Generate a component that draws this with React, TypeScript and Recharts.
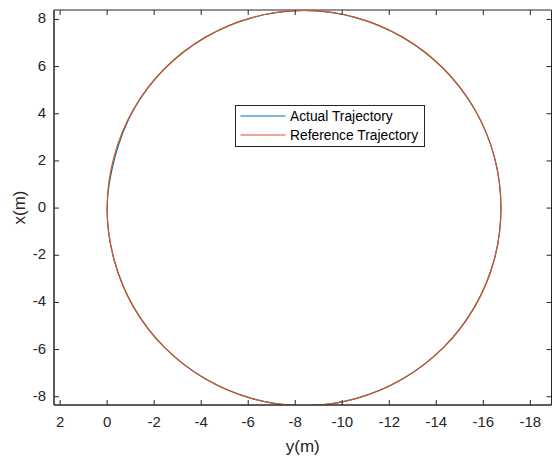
import { LineChart, Line, XAxis, YAxis, ReferenceArea } from "recharts";

// horizontal axis is y(m), vertical axis is x(m)
const refY = [
  0, -0.29, -1.12, -2.45, -4.19, -6.21, -8.38, -10.54, -12.56, -14.3, -15.63, -16.47, -16.75,
  -16.47, -15.63, -14.3, -12.56, -10.54, -8.38, -6.21, -4.19, -2.45, -1.12, -0.29, 0,
];
const refX = [
  0, 2.17, 4.19, 5.92, 7.25, 8.09, 8.38, 8.09, 7.25, 5.92, 4.19, 2.17, 0,
  -2.17, -4.19, -5.92, -7.25, -8.09, -8.38, -8.09, -7.25, -5.92, -4.19, -2.17, 0,
];
const actY = [
  0, -0.33, -1.13, -2.45, -4.19, -6.21, -8.38, -10.54, -12.56, -14.3, -15.63, -16.47, -16.75,
  -16.47, -15.63, -14.3, -12.56, -10.54, -8.38, -6.21, -4.19, -2.45, -1.12, -0.29, 0,
];
const actX = [
  0, 2.15, 4.18, 5.92, 7.25, 8.09, 8.38, 8.09, 7.25, 5.92, 4.19, 2.17, 0,
  -2.17, -4.19, -5.92, -7.25, -8.09, -8.38, -8.09, -7.25, -5.92, -4.19, -2.17, 0,
];

const xTicks = [2, 0, -2, -4, -6, -8, -10, -12, -14, -16, -18];
const yTicks = [-8, -6, -4, -2, 0, 2, 4, 6, 8];
const xDomain = [-18.9, 2.26];
const yDomain = [-8.35, 8.4];

const BLUE = "#0072BD";
const ORANGE = "#D95319";
const AXIS = "#262626";
const FONT = "'Liberation Sans', Arial, sans-serif";

const W = 553;
const H = 459;
const M = { top: 10, right: 1.5, bottom: 0, left: 0 };
const PLOT_TOP = M.top;
const PLOT_RIGHT = W - M.right;

const refData = refY.map((y, i) => ({ y, x: refX[i] }));
const actData = actY.map((y, i) => ({ y, x: actX[i] }));

// catmull-rom curve, wraps around when the path is closed
const loopCurve = (context: any) => {
  let pts: number[][] = [];
  return {
    areaStart() {},
    areaEnd() {},
    lineStart() {
      pts = [];
    },
    point(x: number, y: number) {
      pts.push([x, y]);
    },
    lineEnd() {
      const n = pts.length;
      if (!n) return;
      const first = pts[0];
      const last = pts[n - 1];
      const closed = n > 2 && Math.abs(first[0] - last[0]) < 0.01 && Math.abs(first[1] - last[1]) < 0.01;
      context.moveTo(first[0], first[1]);
      for (let i = 0; i < n - 1; i++) {
        const p0 = i === 0 ? (closed ? pts[n - 2] : pts[0]) : pts[i - 1];
        const p1 = pts[i];
        const p2 = pts[i + 1];
        const p3 = i === n - 2 ? (closed ? pts[1] : pts[n - 1]) : pts[i + 2];
        context.bezierCurveTo(
          p1[0] + (p2[0] - p0[0]) / 6,
          p1[1] + (p2[1] - p0[1]) / 6,
          p2[0] - (p3[0] - p1[0]) / 6,
          p2[1] - (p3[1] - p1[1]) / 6,
          p2[0],
          p2[1]
        );
      }
    },
  };
};

// ticks point inwards, and are repeated on the top / right edges of the box
const BottomTick = (props: any) => {
  const { x, y, payload } = props;
  return (
    <g>
      <line x1={x} y1={y} x2={x} y2={y - 5} stroke={AXIS} />
      <line x1={x} y1={PLOT_TOP} x2={x} y2={PLOT_TOP + 5} stroke={AXIS} />
      <text x={x} y={y + 22} textAnchor="middle" fill={AXIS} fontSize={15} fontFamily={FONT}>
        {payload.value}
      </text>
    </g>
  );
};

const LeftTick = (props: any) => {
  const { x, y, payload } = props;
  return (
    <g>
      <line x1={x} y1={y} x2={x + 5} y2={y} stroke={AXIS} />
      <line x1={PLOT_RIGHT} y1={y} x2={PLOT_RIGHT - 5} y2={y} stroke={AXIS} />
      <text x={x - 8} y={y - 1.5} textAnchor="end" dominantBaseline="central" fill={AXIS} fontSize={15} fontFamily={FONT}>
        {payload.value}
      </text>
    </g>
  );
};

const LegendBox = () => (
  <svg width={190} height={42} style={{ display: "block" }}>
    <rect x={0.5} y={0.5} width={189} height={41} fill="#fff" stroke={AXIS} />
    <line x1={5.5} x2={50.5} y1={11} y2={11} stroke={BLUE} strokeWidth={1} />
    <text x={55} y={11} dominantBaseline="central" fontSize={13.8} fontFamily={FONT} fill="#000">
      Actual Trajectory
    </text>
    <line x1={5.5} x2={50.5} y1={30} y2={30} stroke={ORANGE} strokeWidth={1} />
    <text x={55} y={30} dominantBaseline="central" fontSize={13.8} fontFamily={FONT} fill="#000">
      Reference Trajectory
    </text>
  </svg>
);

export default function App() {
  return (
    <div style={{ position: "absolute", left: 0, top: 0, width: W, height: H, background: "#fff" }}>
      <LineChart width={W} height={H} margin={M}>
        <XAxis
          dataKey="y"
          type="number"
          domain={xDomain}
          reversed
          allowDataOverflow
          ticks={xTicks}
          interval={0}
          height={54}
          tickSize={0}
          tickMargin={0}
          tick={BottomTick}
          axisLine={{ stroke: AXIS }}
          label={{
            content: (p: any) => {
              const vb = p.viewBox;
              return (
                <text x={vb.x + vb.width / 2} y={452} textAnchor="middle" fontSize={17} fontFamily={FONT} fill={AXIS}>
                  y(m)
                </text>
              );
            },
          }}
        />
        <YAxis
          type="number"
          domain={yDomain}
          allowDataOverflow
          ticks={yTicks}
          interval={0}
          width={54}
          tickSize={0}
          tickMargin={0}
          tick={LeftTick}
          axisLine={{ stroke: AXIS }}
          label={{
            content: (p: any) => {
              const vb = p.viewBox;
              const cy = vb.y + vb.height / 2;
              return (
                <text x={25} y={cy} transform={`rotate(-90, 25, ${cy})`} textAnchor="middle" fontSize={17} fontFamily={FONT} fill={AXIS}>
                  x(m)
                </text>
              );
            },
          }}
        />
        <ReferenceArea
          x1={xDomain[0]}
          x2={xDomain[1]}
          y1={yDomain[0]}
          y2={yDomain[1]}
          fill="none"
          fillOpacity={0}
          stroke={AXIS}
          strokeWidth={1}
          ifOverflow="visible"
        />
        <Line
          data={actData}
          dataKey="x"
          name="Actual Trajectory"
          type={loopCurve as any}
          stroke={BLUE}
          strokeWidth={1.2}
          dot={false}
          activeDot={false}
          isAnimationActive={false}
        />
        <Line
          data={refData}
          dataKey="x"
          name="Reference Trajectory"
          type={loopCurve as any}
          stroke={ORANGE}
          strokeWidth={1.2}
          dot={false}
          activeDot={false}
          isAnimationActive={false}
        />
      </LineChart>
      <div style={{ position: "absolute", left: 235, top: 105 }}>
        <LegendBox />
      </div>
    </div>
  );
}
